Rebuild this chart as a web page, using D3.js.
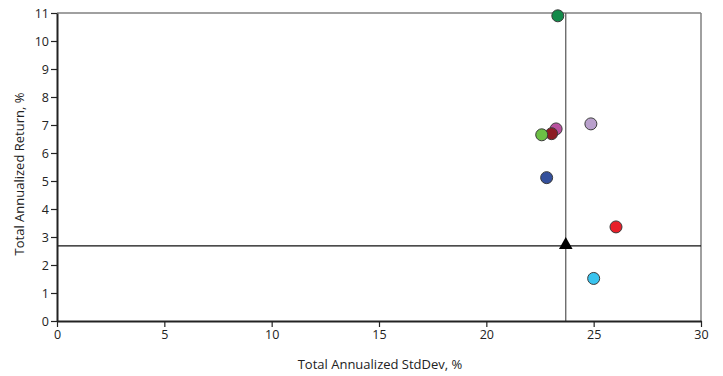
<!DOCTYPE html>
<html><head><meta charset="utf-8">
<script src="https://cdn.jsdelivr.net/npm/d3@7"></script>
<style>body{margin:0;background:#fff}svg{display:block}text{font-family:"Open Sans",sans-serif}</style>
</head><body><svg id="c" width="723" height="376"></svg>
<script>
const names = ["A","B","C","D","E","F","G","H"];
const stdDev = [23.33, 24.87, 23.25, 23.04, 22.58, 22.81, 26.04, 25.0];
const ret = [10.9, 7.04, 6.86, 6.69, 6.65, 5.12, 3.36, 1.52];
const colors = ["#138a4a","#b9a0cc","#b8509e","#8c1c24","#6cbf45","#34509c","#e8202a","#39c4ef"];
const benchX = 23.7, benchY = 2.68;
const xTicks = [0,5,10,15,20,25,30];
const yTicks = [0,1,2,3,4,5,6,7,8,9,10,11];

const svg = d3.select("#c");
const x = d3.scaleLinear().domain([0,30]).range([57,701]);
const y = d3.scaleLinear().domain([0,11]).range([321,13]);

svg.append("line").attr("x1",x(0)).attr("x2",x(30)).attr("y1",y(11)).attr("y2",y(11)).attr("stroke","#808080").attr("stroke-width",1.5);
svg.append("line").attr("x1",x(30)).attr("x2",x(30)).attr("y1",y(11)).attr("y2",y(0)).attr("stroke","#808080").attr("stroke-width",1.5);

svg.append("line").attr("x1",x(benchX)).attr("x2",x(benchX)).attr("y1",y(11)).attr("y2",y(0)).attr("stroke","#555").attr("stroke-width",1.2);
svg.append("line").attr("x1",x(0)).attr("x2",x(30)).attr("y1",y(benchY)).attr("y2",y(benchY)).attr("stroke","#111").attr("stroke-width",1.2);

const xa = svg.append("g").attr("transform",`translate(0,${y(0)})`)
  .call(d3.axisBottom(x).tickValues(xTicks).tickSize(6).tickPadding(3).tickSizeOuter(0));
const ya = svg.append("g").attr("transform",`translate(${x(0)},0)`)
  .call(d3.axisLeft(y).tickValues(yTicks).tickSize(6).tickPadding(2).tickSizeOuter(0));
[xa,ya].forEach(g=>{
  g.select(".domain").attr("stroke","#222").attr("stroke-width",2);
  g.selectAll(".tick line").attr("stroke","#222").attr("stroke-width",1.2);
  g.selectAll(".tick text").attr("font-size",12.5).attr("fill","#222").attr("font-family","'Open Sans',sans-serif");
});

svg.append("g").selectAll("circle").data(names).join("circle")
  .attr("cx",(d,i)=>x(stdDev[i])).attr("cy",(d,i)=>y(ret[i])).attr("r",6)
  .attr("fill",(d,i)=>colors[i]).attr("stroke","#3a3a3a").attr("stroke-width",1);

svg.append("path").attr("d",d3.symbol().type(d3.symbolTriangle).size(80)())
  .attr("transform",`translate(${x(benchX)},${y(benchY)-1})`).attr("fill","#000");

svg.append("text").attr("x",(x(0)+x(30))/2+1).attr("y",369).attr("text-anchor","middle")
  .attr("font-size",13).attr("fill","#222").text("Total Annualized StdDev, %");
svg.append("text").attr("transform",`translate(24,174) rotate(-90)`).attr("text-anchor","middle")
  .attr("font-family","'Liberation Sans',Arial,sans-serif")
  .attr("font-size",13).attr("fill","#222").text("Total Annualized Return, %");
</script></body></html>
